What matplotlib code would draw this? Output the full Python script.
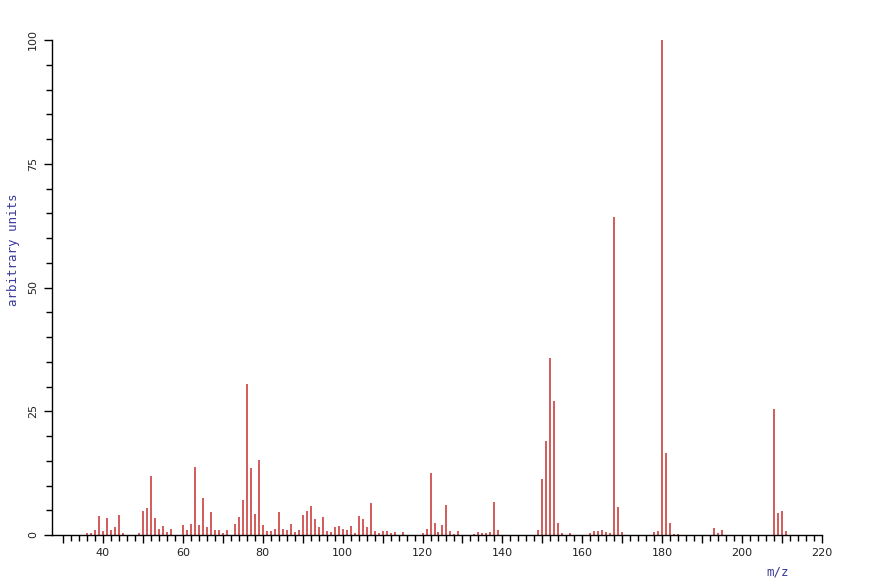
import matplotlib
matplotlib.use('Agg')
import matplotlib.pyplot as plt
from matplotlib.ticker import MultipleLocator, FixedLocator, FuncFormatter

# peak list (m/z, relative intensity)
mz = [36, 37, 38, 39, 40, 41, 42, 43, 44, 45, 49, 50, 51, 52, 53, 54, 55, 56, 57,
      60, 61, 62, 63, 64, 65, 66, 67, 68, 69, 70, 71, 73, 74, 75, 76, 77, 78, 79,
      80, 81, 82, 83, 84, 85, 86, 87, 88, 89, 90, 91, 92, 93, 94, 95, 96, 97, 98,
      99, 100, 101, 102, 103, 104, 105, 106, 107, 108, 109, 110, 111, 112, 113,
      115, 120, 121, 122, 123, 124, 125, 126, 127, 128, 129, 133, 134, 135, 136,
      137, 138, 139, 149, 150, 151, 152, 153, 154, 155, 157, 162, 163, 164, 165,
      166, 167, 168, 169, 170, 178, 179, 180, 181, 182, 183, 184, 193, 194, 195,
      208, 209, 210, 211]
intensity = [0.5, 0.4, 1.1, 3.8, 0.9, 3.4, 1.1, 1.6, 4.0, 0.4, 0.5, 4.9, 5.4, 12.0,
             3.4, 1.3, 1.8, 0.7, 1.3, 2.0, 1.0, 2.2, 13.8, 2.0, 7.4, 1.6, 4.7, 1.1,
             1.1, 0.5, 1.0, 2.2, 3.6, 7.1, 30.5, 13.6, 4.2, 15.2, 2.0, 0.9, 0.9,
             1.2, 4.7, 1.3, 1.1, 2.3, 0.7, 1.0, 4.0, 4.9, 5.9, 3.2, 1.7, 3.7, 0.9,
             0.7, 1.6, 1.8, 1.2, 1.0, 1.8, 0.5, 3.9, 3.2, 1.6, 6.4, 0.9, 0.5, 0.9,
             0.9, 0.5, 0.7, 0.7, 0.5, 1.3, 12.5, 2.5, 0.7, 2.0, 6.1, 0.9, 0.3, 0.9,
             0.3, 0.7, 0.5, 0.5, 0.7, 6.7, 1.1, 1.1, 11.4, 18.9, 35.7, 27.1, 2.4,
             0.5, 0.5, 0.5, 0.9, 0.9, 1.1, 0.7, 0.5, 64.3, 5.6, 0.7, 0.7, 0.9,
             100.0, 16.5, 2.5, 0.3, 0.2, 1.4, 0.5, 1.1, 25.4, 4.5, 4.9, 0.9]

x_major = list(range(30, 221, 10))
x_minor = list(range(30, 221, 2))

W, H = 871, 578
fig = plt.figure(figsize=(W / 100, H / 100), dpi=100)
ax = fig.add_axes([52 / W, 1 - 535 / H, (822 - 52) / W, (535 - 40) / H])

ax.vlines(mz, 0, intensity, colors='#cc4040', linewidth=1.2)

ax.set_xlim(27.25, 220)
ax.set_ylim(0, 100)

for side in ('top', 'right'):
    ax.spines[side].set_visible(False)
for side in ('left', 'bottom'):
    ax.spines[side].set_linewidth(1.0)
    ax.spines[side].set_color('black')

ax.xaxis.set_major_locator(FixedLocator(x_major))
ax.xaxis.set_minor_locator(FixedLocator(x_minor))
ax.xaxis.set_major_formatter(FuncFormatter(lambda v, p: '%d' % v if v % 20 == 0 else ''))
ax.yaxis.set_major_locator(MultipleLocator(25))
ax.yaxis.set_minor_locator(MultipleLocator(5))

ax.tick_params(axis='both', which='major', direction='out', length=6, width=1.0,
               labelsize=8, labelcolor='#222222')
ax.tick_params(axis='both', which='minor', direction='out', length=4, width=1.0)
ax.tick_params(axis='x', which='major', pad=3)
ax.tick_params(axis='y', which='major', pad=4)
for lab in ax.get_yticklabels():
    lab.set_rotation(90)
    lab.set_va('center')

fig.text(13 / W, 1 - 250 / H, 'arbitrary units', rotation=90, ha='center', va='center',
         family='DejaVu Sans Mono', fontsize=9, color='#3a3a9a')
fig.text(778 / W, 1 - 572 / H, 'm/z', ha='center', va='center',
         family='DejaVu Sans Mono', fontsize=9, color='#3a3a9a')

fig.savefig('out.png', dpi=100)
